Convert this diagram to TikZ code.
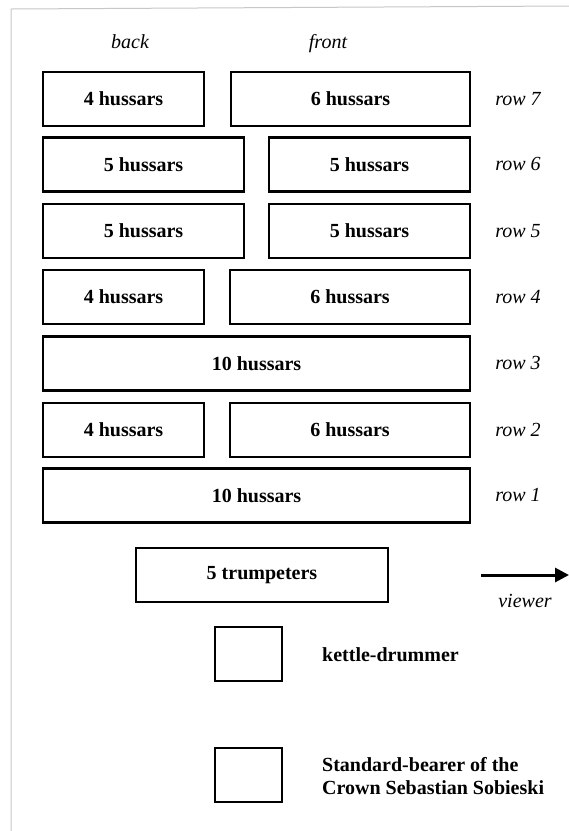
\documentclass[tikz,border=0pt]{standalone}
\usepackage{fontspec}
\setmainfont{Liberation Serif}
\usetikzlibrary{arrows.meta}
\tikzset{
  unit/.style={draw, line width=2.6pt, rectangle, minimum height=54pt, inner sep=0pt, font=\fontsize{20}{22}\selectfont\bfseries},
  rowlbl/.style={font=\fontsize{20}{22}\selectfont\itshape, inner sep=0pt, anchor=base},
  legend/.style={font=\fontsize{20}{23}\selectfont\bfseries, inner sep=0pt, anchor=west, align=left}
}
\begin{document}
\begin{tikzpicture}[x=1pt,y=-1pt]
\useasboundingbox (0,0) rectangle (569,831);
\fill[white] (0,0) rectangle (569,831);
% page edge of the scan
\coordinate (fa) at (11,831);
\coordinate (fb) at (11,9);
\coordinate (fc) at (569,6);
\draw[black!22, line width=1pt] (fa) -- (fb) -- (fc);
% column headers
\node[rowlbl] (back) at (130,48) {back};
\node[rowlbl] (front) at (328,48) {front};
% row 7
\node[unit, minimum width=161pt] (r7a) at (123.5,99) {4 hussars};
\node[unit, minimum width=239pt] (r7b) at (350.5,99) {6 hussars};
\node[rowlbl] (l7) at (518,105) {row 7};
% row 6
\node[unit, minimum width=201pt] (r6a) at (143.5,164.5) {5 hussars};
\node[unit, minimum width=201pt] (r6b) at (369.5,164.5) {5 hussars};
\node[rowlbl] (l6) at (518,170.5) {row 6};
% row 5
\node[unit, minimum width=201pt] (r5a) at (143.5,231) {5 hussars};
\node[unit, minimum width=201pt] (r5b) at (369.5,231) {5 hussars};
\node[rowlbl] (l5) at (518,237) {row 5};
% row 4
\node[unit, minimum width=161pt] (r4a) at (123.5,297) {4 hussars};
\node[unit, minimum width=240pt] (r4b) at (350,297) {6 hussars};
\node[rowlbl] (l4) at (518,303) {row 4};
% row 3
\node[unit, minimum width=427pt] (r3) at (256.5,363.5) {10 hussars};
\node[rowlbl] (l3) at (518,369.5) {row 3};
% row 2
\node[unit, minimum width=161pt] (r2a) at (123.5,430) {4 hussars};
\node[unit, minimum width=240pt] (r2b) at (350,430) {6 hussars};
\node[rowlbl] (l2) at (518,436) {row 2};
% row 1
\node[unit, minimum width=427pt] (r1) at (256.5,495.5) {10 hussars};
\node[rowlbl] (l1) at (518,501.5) {row 1};
% trumpeters
\node[unit, minimum width=252pt] (tr) at (262,575) {5 trumpeters};
% viewer arrow
\coordinate (va) at (481,575);
\coordinate (vb) at (569,575);
\draw[line width=3pt, -{Triangle[length=14pt,width=14pt]}] (va) -- (vb);
\node[rowlbl] (viewer) at (525,607) {viewer};
% kettle-drummer
\node[unit, minimum width=67pt] (kd) at (248.5,654) {};
\node[legend] (kdl) at (322,655) {kettle-drummer};
% standard-bearer
\node[unit, minimum width=67pt] (sb) at (248.5,775) {};
\node[legend] (sbl) at (322,776) {Standard-bearer of the\\Crown Sebastian Sobieski};
\end{tikzpicture}
\end{document}
